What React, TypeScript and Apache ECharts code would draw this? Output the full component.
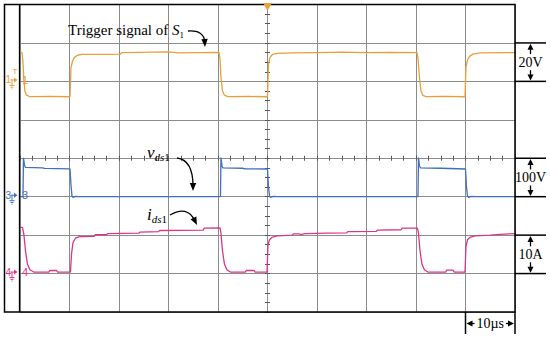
import React, { useEffect, useRef } from "react";
import * as echarts from "echarts";

// Time in µs relative to the trigger point (centre of the screen)
// CH1: trigger (gate) signal of S1, volts
const gateTrace: number[][] = [
  [-50, 15.2], [-49.6, 15.0], [-49.4, 10], [-49.2, 0], [-49.0, -5], [-48.7, -7.2], [-48.0, -7.9],
  [-44, -7.8], [-39.9, -8.0], [-39.7, 7.0], [-39.4, 10.5], [-39.0, 12.5], [-38.4, 13.6], [-37.5, 14.0],
  [-32, 14.1], [-29.7, 14.2], [-29.5, 15.0], [-23, 15.2], [-20, 15.3], [-18, 14.8], [-14, 15.0],
  [-9.8, 15.1], [-9.6, 12], [-9.4, 2], [-9.1, -5], [-8.7, -7.2], [-8.0, -7.9], [-4, -7.8], [0.0, -8.0],
  [0.2, 9], [0.5, 12.5], [1.0, 14.0], [2.0, 14.6], [5, 14.8], [10, 15.0], [15, 15.2], [20, 15.0],
  [25, 15.1], [30.2, 15.0], [30.4, 12], [30.7, 2], [31.0, -5], [31.4, -7.3], [32, -7.9], [36, -7.8],
  [39.9, -8.0], [40.1, 7.5], [40.4, 11], [40.8, 13], [41.5, 14.2], [43, 14.8], [50, 15.0],
];

// CH3: drain-source voltage vds1, volts
const vdsTrace: number[][] = [
  [-50, 0], [-49.4, 0], [-49.3, 101], [-49.1, 82], [-48.9, 76], [-45.5, 75], [-45, 73.5],
  [-39.9, 72.5], [-39.7, 30], [-39.5, 2], [-39.3, -2], [-38.8, 1], [-38, 0], [-9.5, 0],
  [-9.4, 102], [-9.2, 80], [-9.0, 75], [-5, 74], [-4.5, 72.5], [0, 72], [0.2, 25], [0.4, 2],
  [0.6, -2], [1.2, 1], [2, 0], [30.4, 0], [30.5, 102], [30.7, 80], [30.9, 75], [35, 74],
  [40, 72], [40.2, 25], [40.4, 2], [40.6, -2], [41.2, 1], [42, 0], [50, 0],
];

// CH4: drain current ids1, amperes
const idsTrace: number[][] = [
  [-50, 12.0], [-49.5, 12.0], [-49.2, 10], [-48.9, 6], [-48.5, 2.5], [-48, 1], [-47.2, 0.4],
  [-44.2, 0.4], [-44, 0.8], [-42.6, 0.8], [-42.4, 0.4], [-39.8, 0.4], [-39.6, 5], [-39.3, 8],
  [-38.8, 9.2], [-38, 9.6], [-35, 9.7], [-34.8, 10.1], [-32.5, 10.1], [-32.3, 10.4], [-26, 10.5],
  [-25.8, 10.8], [-22, 10.9], [-21.8, 11.2], [-13, 11.3], [-12.8, 11.8], [-9.6, 11.9], [-9.4, 10.5],
  [-9.1, 6], [-8.7, 2.5], [-8.2, 1], [-7.5, 0.4], [-4.5, 0.4], [-4.3, 0.8], [-2.7, 0.8], [-2.5, 0.4],
  [-0.1, 0.4], [0.1, 7.5], [0.4, 8.8], [1, 9.5], [2, 9.8], [5, 10.0], [5.2, 10.3], [6.5, 10.3],
  [6.7, 10.1], [7.5, 10.4], [12, 10.5], [16, 10.6], [16.2, 10.9], [22, 11.0], [22.2, 11.3],
  [27, 11.4], [27.2, 11.8], [30.3, 11.8],
  [30.5, 10.5], [30.8, 6], [31.2, 2.5], [31.7, 1], [32.4, 0.4], [36, 0.4], [36.2, 0.9], [37.5, 0.9],
  [37.7, 0.4], [39.9, 0.4], [40.1, 7], [40.4, 8.8], [41, 9.5], [42, 9.8], [45, 10.0], [47, 10.2],
  [50, 10.4],
];

const channelNumbers = ["1", "3", "4"];
const scaleLabels = ["20V", "100V", "10A"];
const timeScaleLabel = "10µs";
const unitsPerDiv = [20, 100, 10];
const groundDiv = [2, -1, -3]; // ground level, divisions above screen centre
const traceColors = ["#E8A03A", "#3F6EC2", "#DD3585"];

const SERIF = "'Liberation Serif'";
const SANS = "'Liberation Sans'";
const GL = 20, GT = 4.5, GW = 495, GH = 307.5;
const GR = GL + GW, GB = GT + GH;
const divY = (k: number) => GT + (k * GH) / 8;
const divX = (k: number) => GL + (k * GW) / 10;

function head(tx: number, ty: number, fx: number, fy: number, len = 7, hw = 3) {
  const dx = tx - fx, dy = ty - fy;
  const L = Math.hypot(dx, dy) || 1;
  const ux = dx / L, uy = dy / L;
  const bx = tx - ux * len, by = ty - uy * len;
  return {
    type: "polygon", silent: true, z: 110,
    shape: { points: [[tx, ty], [bx - uy * hw, by + ux * hw], [bx + uy * hw, by - ux * hw]] },
    style: { fill: "#000" },
  };
}

function curvedArrow(x1: number, y1: number, cx: number, cy: number, tx: number, ty: number) {
  const dx = tx - cx, dy = ty - cy;
  const L = Math.hypot(dx, dy) || 1;
  const ex = tx - (dx / L) * 5, ey = ty - (dy / L) * 5;
  return [
    { type: "bezierCurve", silent: true, z: 110, shape: { x1, y1, x2: ex, y2: ey, cpx1: cx, cpy1: cy }, style: { stroke: "#000", lineWidth: 1.3, fill: null } },
    head(tx, ty, cx, cy, 8, 3.2),
  ];
}

function line(x1: number, y1: number, x2: number, y2: number, w = 1.5, c = "#000") {
  return { type: "line", silent: true, z: 105, shape: { x1, y1, x2, y2 }, style: { stroke: c, lineWidth: w } };
}

function vDim(y1: number, y2: number, label: string) {
  const x = 530.5;
  const m = (y1 + y2) / 2;
  return [
    line(GR, y1, 546, y1),
    line(GR, y2, 546, y2),
    head(x, y1 + 0.8, x, y1 + 10, 6, 3),
    line(x, y1 + 6, x, m - 8, 1.3),
    line(x, m + 8, x, y2 - 6, 1.3),
    head(x, y2 - 0.8, x, y2 - 10, 6, 3),
    { type: "text", silent: true, z: 110, x, y: m, style: { text: label, font: `14px ${SERIF}`, fill: "#000", align: "center", verticalAlign: "middle" } },
  ];
}

function chMarker(y: number, color: string, label: string, withT: boolean) {
  const els: any[] = [
    { type: "text", silent: true, z: 110, x: 5.5, y: y - 1.5, style: { text: label, font: `10px ${SANS}`, fill: color, align: "left", verticalAlign: "middle" } },
    line(10.5, y - 1.5, 14, y - 1.5, 1, color),
    { type: "polygon", silent: true, z: 110, shape: { points: [[14, y - 4], [17.5, y - 1.5], [14, y + 1]] }, style: { fill: color } },
    line(12, y - 1.5, 12, y + 4, 1, color),
    line(9.5, y + 4, 14.5, y + 4, 1, color),
    line(10.5, y + 5.8, 13.5, y + 5.8, 1, color),
    line(11.5, y + 7.5, 12.5, y + 7.5, 1, color),
    { type: "text", silent: true, z: 110, x: 22, y: y - 1.5, style: { text: label, font: `11px ${SANS}`, fill: color, align: "left", verticalAlign: "middle" } },
  ];
  if (withT) {
    els.push({ type: "text", silent: true, z: 110, x: 15, y: y - 10, style: { text: "T", font: `8px ${SANS}`, fill: color, align: "center", verticalAlign: "middle" } });
  }
  return els;
}

const subRich = {
  v: { font: `italic 17px ${SERIF}`, fill: "#000", lineHeight: 20 },
  s: { font: `italic 11px ${SERIF}`, fill: "#000", lineHeight: 12, verticalAlign: "bottom" },
  n: { font: `11px ${SERIF}`, fill: "#000", lineHeight: 12, verticalAlign: "bottom" },
};

export default function App() {
  const ref = useRef<HTMLDivElement>(null);
  useEffect(() => {
    if (!ref.current) return;
    const chart = echarts.init(ref.current, undefined, { renderer: "svg" });
    const gridColor = "#8c8c8c";
    const tickColor = "#555";
    const tickAxisX = (inside: boolean) => ({
      type: "value", min: -50, max: 50, interval: 2.5, position: "bottom",
      axisLine: { show: true, onZero: true, onZeroAxisIndex: 3, lineStyle: { color: gridColor, width: 1 } },
      axisTick: { show: true, inside, length: 2.5, lineStyle: { color: tickColor, width: 1 } },
      axisLabel: { show: false }, splitLine: { show: false },
    });
    const tickAxisY = (inside: boolean) => ({
      type: "value", min: -4, max: 4, interval: 0.25, position: "left",
      axisLine: { show: true, onZero: true, onZeroAxisIndex: 0, lineStyle: { color: gridColor, width: 1 } },
      axisTick: { show: true, inside, length: 2.5, lineStyle: { color: tickColor, width: 1 } },
      axisLabel: { show: false }, splitLine: { show: false },
    });
    const chAxis = (i: number, visible: boolean) => ({
      type: "value",
      min: (-4 - groundDiv[i]) * unitsPerDiv[i],
      max: (4 - groundDiv[i]) * unitsPerDiv[i],
      interval: unitsPerDiv[i],
      position: "left",
      axisLine: { show: false }, axisTick: { show: false }, axisLabel: { show: false },
      splitLine: { show: visible, lineStyle: { color: gridColor, width: 1 } },
    });
    const traces = [gateTrace, vdsTrace, idsTrace];

    const graphic: any[] = [
      { type: "rect", silent: true, z: 100, shape: { x: 4.5, y: GT, width: GR - 4.5, height: GH }, style: { fill: null, stroke: "#000", lineWidth: 1.5 } },
      line(GL - 0.5, GT, GL - 0.5, GB, 1.3),
      { type: "polygon", silent: true, z: 120, shape: { points: [[divX(5) - 4.5, 3], [divX(5) + 4.5, 3], [divX(5), 10.5]] }, style: { fill: traceColors[0] } },
      ...vDim(divY(1), divY(2), scaleLabels[0]),
      ...vDim(divY(4), divY(5), scaleLabels[1]),
      ...vDim(divY(6), divY(7), scaleLabels[2]),
      line(divX(9), GB, divX(9), 334),
      line(GR, GB, GR, 334),
      head(divX(9) + 1, 323.5, divX(9) + 10, 323.5, 6, 3),
      line(divX(9) + 6, 323.5, divX(9) + 9, 323.5, 1.3),
      line(GR - 9, 323.5, GR - 6, 323.5, 1.3),
      head(GR - 1, 323.5, GR - 10, 323.5, 6, 3),
      { type: "text", silent: true, z: 110, x: (divX(9) + GR) / 2, y: 323.5, style: { text: timeScaleLabel, font: `14px ${SERIF}`, fill: "#000", align: "center", verticalAlign: "middle" } },
      ...chMarker(divY(2), traceColors[0], channelNumbers[0], true),
      ...chMarker(divY(5), traceColors[1], channelNumbers[1], false),
      ...chMarker(divY(7), traceColors[2], channelNumbers[2], false),
      {
        type: "text", silent: true, z: 110, x: 68, y: 30,
        style: {
          text: "{a|Trigger signal of }{b|S}{c|1}",
          align: "left", verticalAlign: "middle",
          rich: {
            a: { font: `15px ${SERIF}`, fill: "#000", lineHeight: 18 },
            b: { font: `italic 15px ${SERIF}`, fill: "#000", lineHeight: 18 },
            c: { font: `9px ${SERIF}`, fill: "#000", lineHeight: 11, verticalAlign: "bottom" },
          },
        },
      },
      ...curvedArrow(188, 31, 204, 30, 205, 47),
      { type: "text", silent: true, z: 110, x: 147, y: 152, style: { text: "{v|v}{s|ds}{n|1}", align: "left", verticalAlign: "middle", rich: subRich } },
      ...curvedArrow(177, 158, 193, 160, 193, 191),
      { type: "text", silent: true, z: 110, x: 147, y: 214, style: { text: "{v|i}{s|ds}{n|1}", align: "left", verticalAlign: "middle", rich: subRich } },
      ...curvedArrow(170, 215, 187, 205, 197, 225),
    ];

    chart.setOption({
      animation: false,
      backgroundColor: "#fff",
      grid: { left: GL, top: GT, width: GW, height: GH, containLabel: false },
      xAxis: [
        {
          type: "value", min: -50, max: 50, interval: 10, position: "bottom",
          axisLine: { show: false }, axisTick: { show: false }, axisLabel: { show: false },
          splitLine: { show: true, lineStyle: { color: gridColor, width: 1 } },
        },
        tickAxisX(true),
        tickAxisX(false),
      ],
      yAxis: [chAxis(0, true), chAxis(1, false), chAxis(2, false), tickAxisY(true), tickAxisY(false)],
      series: traces.map((d, i) => ({
        type: "line",
        name: channelNumbers[i],
        data: d,
        xAxisIndex: 0,
        yAxisIndex: i,
        showSymbol: false,
        symbol: "none",
        z: 5 + i,
        lineStyle: { color: traceColors[i], width: 1.3 },
        itemStyle: { color: traceColors[i] },
      })),
      graphic,
    });
    return () => chart.dispose();
  }, []);
  return (
    <div
      ref={ref}
      style={{ position: "absolute", left: 0, top: 0, width: 550, height: 338, background: "#fff" }}
    />
  );
}
